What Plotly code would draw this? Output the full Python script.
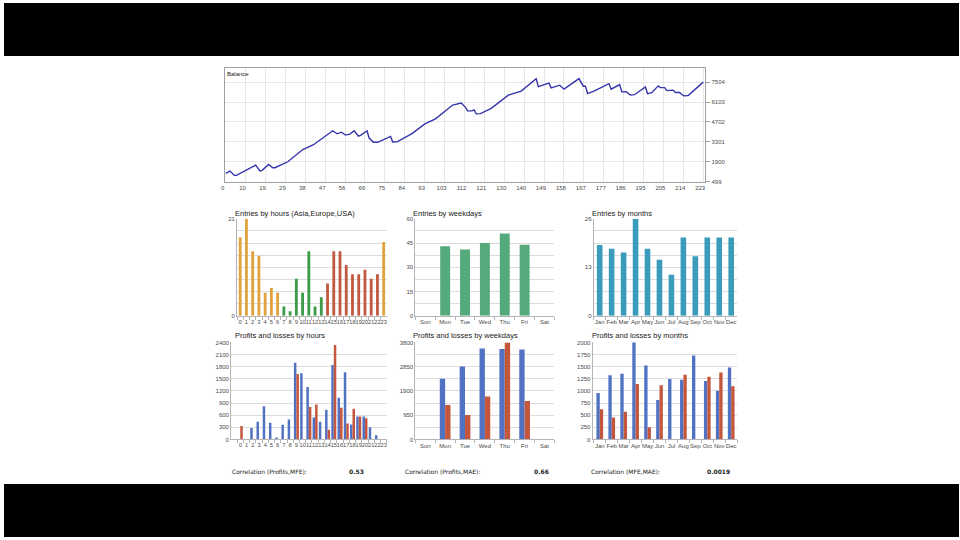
import plotly.graph_objects as go

W, H = 960, 540

# ---------------- data ----------------
bal_trade = [0, 2, 4, 5, 14, 16, 17, 20, 22, 23, 29, 36, 41, 50, 52, 54, 56, 58, 60, 62, 63, 66, 67, 69, 71,
             77, 78, 80, 87, 93, 98, 106, 110, 112, 113, 115, 116, 117, 119, 124, 132, 138, 145, 146, 151,
             152, 156, 158, 165, 167, 168, 169, 172, 179, 180, 184, 185, 187, 189, 191, 196, 197, 199, 202,
             203, 205, 206, 208, 209, 210, 212, 213, 214, 216, 223]
bal_value = [1080, 1250, 945, 945, 1660, 1250, 1300, 1710, 1480, 1480, 1900, 2760, 3100, 4080, 3870, 3980,
             3780, 3850, 4080, 3700, 3760, 4080, 3570, 3270, 3270, 3680, 3290, 3300, 3880, 4570, 4920, 5890,
             6030, 5730, 5480, 5480, 5550, 5270, 5290, 5660, 6590, 6870, 7750, 7190, 7430, 7100, 7290, 7010,
             7750, 7220, 7220, 6700, 6870, 7400, 7010, 7330, 6820, 6830, 6590, 6620, 7170, 6700, 6760, 7240,
             7120, 7120, 6910, 6910, 6940, 6770, 6770, 6630, 6540, 6560, 7504]
bal_xtick_labels = ['0', '10', '19', '29', '38', '47', '56', '66', '75', '84', '93', '103', '112', '121',
                    '130', '140', '149', '158', '167', '177', '186', '195', '205', '214', '223']
bal_ytick_vals = [499, 1900, 3301, 4702, 6103, 7504]

hour_labels = [str(h) for h in range(24)]
hour_session = ['Asia'] * 7 + ['Europe'] * 7 + ['USA'] * 9 + ['Asia']
entries_hours = [17, 21, 14, 13, 5, 6, 5, 2, 1, 8, 5, 14, 2, 4, 7, 14, 14, 11, 9, 9, 10, 8, 9, 16]

weekdays = ['Sun', 'Mon', 'Tue', 'Wed', 'Thu', 'Fri', 'Sat']
entries_weekdays = [0, 43, 41, 45, 51, 44, 0]

months = ['Jan', 'Feb', 'Mar', 'Apr', 'May', 'Jun', 'Jul', 'Aug', 'Sep', 'Oct', 'Nov', 'Dec']
entries_months = [19, 18, 17, 26, 18, 15, 11, 21, 16, 21, 21, 21]

profits_hours = [0, 0, 280, 440, 820, 410, 50, 360, 490, 1900, 1640, 1300, 540, 440, 735, 1845, 1030, 1665,
                 370, 570, 570, 300, 100, 0]
losses_hours = [330, 0, 0, 0, 0, 0, 0, 0, 0, 1620, 0, 800, 865, 0, 240, 2340, 785, 395, 760, 565, 522, 0, 0, 0]

profits_weekdays = [0, 2380, 2860, 3565, 3540, 3530, 0]
losses_weekdays = [0, 1345, 955, 1680, 3800, 1510, 0]

profits_months = [960, 1325, 1355, 2010, 1525, 815, 1245, 1230, 1730, 1205, 1005, 1485]
losses_months = [620, 450, 570, 1145, 250, 1115, 0, 1335, 0, 1295, 1380, 1095]

entries_hours_ticks = [0, 21]
entries_weekdays_ticks = [0, 15, 30, 45, 60]
entries_months_ticks = [0, 13, 26]
pl_hours_ticks = [0, 300, 600, 900, 1200, 1500, 1800, 2100, 2400]
pl_weekdays_ticks = [0, 950, 1900, 2850, 3800]
pl_months_ticks = [0, 250, 500, 750, 1000, 1250, 1500, 1750, 2000]

corr_labels = ['Correlation (Profits,MFE):', 'Correlation (Profits,MAE):', 'Correlation (MFE,MAE):']
corr_values = ['0.53', '0.66', '0.0019']

titles = ['Entries by hours (Asia,Europe,USA)', 'Entries by weekdays', 'Entries by months',
          'Profits and losses by hours', 'Profits and losses by weekdays', 'Profits and losses by months']

# ---------------- styling ----------------
FONT = 'Liberation Sans'
GRID = '#dcdcdc'
AXL = '#b4b4b4'
TICKC = '#4a4a4a'
session_color = {'Asia': '#E0A23C', 'Europe': '#3A9A46', 'USA': '#C25840'}
C_WEEK = '#55AA7C'
C_MONTH = '#3A9CBA'
C_PROFIT = '#5172C2'
C_LOSS = '#C4563C'


def px(x):
    return x / W


def py(y):
    return 1 - y / H


fig = go.Figure()

# ---- balance ----
fig.add_trace(go.Scatter(x=bal_trade, y=bal_value, mode='lines', line=dict(color='#3434AC', width=1.4),
                         xaxis='x', yaxis='y', hoverinfo='skip'))
n_bal = int(bal_xtick_labels[-1])
bal_tickpos = [i * n_bal / (len(bal_xtick_labels) - 1) for i in range(len(bal_xtick_labels))]

layout = dict(
    width=W, height=H, margin=dict(l=0, r=0, t=0, b=0),
    paper_bgcolor='white', plot_bgcolor='white', showlegend=False,
    font=dict(family=FONT, color=TICKC),
    xaxis=dict(domain=[px(222), px(705)], range=[-0.4, 224], tickmode='array', tickvals=bal_tickpos,
               ticktext=bal_xtick_labels, showgrid=True, gridcolor='#e6e6e6', gridwidth=1,
               showline=True, mirror=True, linecolor='#a0a0a0', linewidth=1, zeroline=False,
               ticks='', tickangle=0, tickfont=dict(size=6, color=TICKC, family=FONT), ticklabelshift=-3,
               anchor='y', fixedrange=True),
    yaxis=dict(domain=[py(180.7), py(66)], range=[499, 8480], side='right', tickmode='array',
               tickvals=bal_ytick_vals, ticktext=[str(v) for v in bal_ytick_vals], showgrid=True,
               gridcolor='#e6e6e6', showline=True, mirror=True, linecolor='#a0a0a0', linewidth=1,
               zeroline=False, ticks='outside', ticklen=4, tickcolor='#a0a0a0',
               tickfont=dict(size=6, color=TICKC, family=FONT), anchor='x', fixedrange=True),
)


def add_axes(n, xdom, xrng, cats, ydom, ytop, minor_n, labels, xfont=6):
    step = ytop / minor_n
    tv = [i * step for i in range(minor_n + 1)]
    tt = [(str(int(round(v))) if any(abs(v - l) < 1e-6 for l in labels) else '') for v in tv]
    layout['xaxis%d' % n] = dict(
        domain=[px(xdom[0]), px(xdom[1])], range=xrng, type='category', categoryorder='array',
        categoryarray=cats, tickmode='array', tickvals=cats, ticktext=cats, tickangle=0,
        showgrid=False, showline=True, linecolor=AXL, linewidth=1, zeroline=False,
        ticks='outside', tickson='boundaries', ticklen=3, tickcolor=AXL,
        tickfont=dict(size=xfont, color=TICKC, family=FONT), anchor='y%d' % n, fixedrange=True)
    layout['yaxis%d' % n] = dict(
        domain=[py(ydom[1]), py(ydom[0])], range=[0, ytop], tickmode='array', tickvals=tv, ticktext=tt,
        showgrid=True, gridcolor=GRID, gridwidth=1, showline=True, linecolor=AXL, linewidth=1,
        zeroline=False, ticks='', tickfont=dict(size=6, color=TICKC, family=FONT),
        anchor='x%d' % n, fixedrange=True)


ETOP, EBOT = 218.3, 316.3
PTOP, PBOT = 343.3, 441.3
add_axes(2, (234.3, 384.8), [-0.5, 23.5], hour_labels, (ETOP, EBOT), 21, 8, entries_hours_ticks, 5.7)
add_axes(3, (413.5, 553.3), [-0.5, 6.5], weekdays, (ETOP, EBOT), 60, 8, entries_weekdays_ticks)
add_axes(4, (592.8, 737.0), [-0.5, 11.5], months, (ETOP, EBOT), 26, 8, entries_months_ticks)
add_axes(5, (228.3, 384.8), [-1.47, 23.5], hour_labels, (PTOP, PBOT), 2400, 8, pl_hours_ticks, 5.7)
add_axes(6, (413.5, 553.3), [-0.5, 6.5], weekdays, (PTOP, PBOT), 3800, 8, pl_weekdays_ticks)
add_axes(7, (591.7, 737.0), [-0.6, 11.5], months, (PTOP, PBOT), 2000, 8, pl_months_ticks)

fig.add_trace(go.Bar(x=hour_labels, y=entries_hours, width=0.45,
                     marker=dict(color=[session_color[s] for s in hour_session], line=dict(width=0)),
                     xaxis='x2', yaxis='y2', cliponaxis=False, hoverinfo='skip'))
fig.add_trace(go.Bar(x=weekdays, y=entries_weekdays, width=0.5, marker=dict(color=C_WEEK, line=dict(width=0)),
                     xaxis='x3', yaxis='y3', cliponaxis=False, hoverinfo='skip'))
fig.add_trace(go.Bar(x=months, y=entries_months, width=0.47, marker=dict(color=C_MONTH, line=dict(width=0)),
                     xaxis='x4', yaxis='y4', cliponaxis=False, hoverinfo='skip'))

for n, cats, pv, lv, w in [(5, hour_labels, profits_hours, losses_hours, 0.4),
                           (6, weekdays, profits_weekdays, losses_weekdays, 0.27),
                           (7, months, profits_months, losses_months, 0.28)]:
    fig.add_trace(go.Bar(x=cats, y=pv, width=w, offset=-w, marker=dict(color=C_PROFIT, line=dict(width=0)),
                         xaxis='x%d' % n, yaxis='y%d' % n, cliponaxis=False, hoverinfo='skip'))
    fig.add_trace(go.Bar(x=cats, y=lv, width=w, offset=0, marker=dict(color=C_LOSS, line=dict(width=0)),
                         xaxis='x%d' % n, yaxis='y%d' % n, cliponaxis=False, hoverinfo='skip'))

annotations = [dict(text='Balance', x=px(222), y=py(71.5), xref='paper', yref='paper', xanchor='left',
                    yanchor='middle', showarrow=False, font=dict(size=6, color='#222', family=FONT))]
title_pos = [(230, 212.5), (409.5, 212.5), (589.5, 212.5), (230.5, 336.5), (409.5, 336.5), (589, 336.5)]
for t, (tx, ty) in zip(titles, title_pos):
    annotations.append(dict(text=t, x=px(tx), y=py(ty), xref='paper', yref='paper', xanchor='left',
                            yanchor='middle', showarrow=False, font=dict(size=7.5, color='#1a1a1a', family=FONT)))
corr_lx = [227, 401, 588]
corr_vx = [364, 550, 732]
for lab, val, lx, vx in zip(corr_labels, corr_values, corr_lx, corr_vx):
    annotations.append(dict(text=lab, x=px(lx), y=py(473.5), xref='paper', yref='paper', xanchor='left',
                            yanchor='middle', showarrow=False, font=dict(size=6, color='#1a1a1a', family='DejaVu Sans')))
    annotations.append(dict(text='<b>' + val + '</b>', x=px(vx), y=py(473.5), xref='paper', yref='paper',
                            xanchor='right', yanchor='middle', showarrow=False,
                            font=dict(size=6, color='#1a1a1a', family='DejaVu Sans')))
layout['annotations'] = annotations
layout['shapes'] = [
    dict(type='rect', xref='paper', yref='paper', x0=0, x1=1, y0=py(53.5), y1=1, fillcolor='black',
         line=dict(width=0), layer='above'),
    dict(type='rect', xref='paper', yref='paper', x0=0, x1=1, y0=0, y1=py(486.5), fillcolor='black',
         line=dict(width=0), layer='above'),
]

fig.update_layout(**layout)
fig.write_html("out.html", config={'displayModeBar': False},
               post_script="document.body.style.margin='0';document.body.style.overflow='hidden';")
